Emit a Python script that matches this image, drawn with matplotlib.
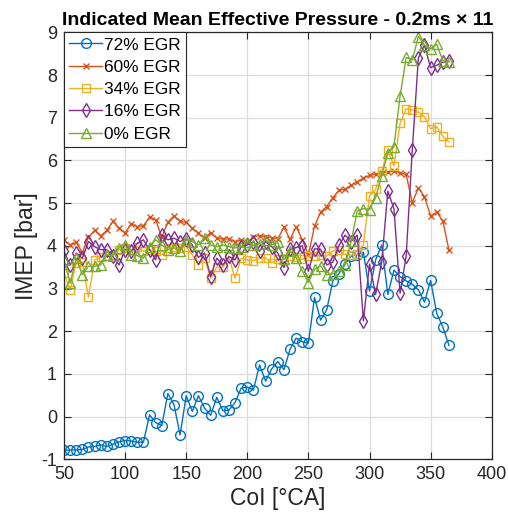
import numpy as np
import matplotlib
matplotlib.use('Agg')
import matplotlib.pyplot as plt

plt.rcParams['font.family'] = ['Liberation Sans', 'DejaVu Sans']
plt.rcParams['axes.unicode_minus'] = False

# crank angle of ignition, 5 deg steps
CoI = np.arange(50, 366, 5)

egr_labels = ['72% EGR', '60% EGR', '34% EGR', '16% EGR', '0% EGR']

imep_72 = [-0.79, -0.78, -0.78, -0.77, -0.71, -0.70, -0.66, -0.70, -0.65, -0.59,
           -0.56, -0.57, -0.60, -0.60, 0.04, -0.14, -0.21, 0.54, 0.28, -0.43,
           0.49, 0.12, 0.49, 0.20, 0.03, 0.45, 0.14, 0.15, 0.33, 0.67,
           0.69, 0.62, 1.21, 0.83, 1.12, 1.29, 1.10, 1.58, 1.84, 1.75,
           1.72, 2.79, 2.26, 2.50, 3.18, 3.35, 3.57, 3.76, 3.79, 3.85,
           2.94, 3.67, 4.02, 2.86, 3.43, 3.28, 3.18, 3.10, 2.97, 2.68,
           3.19, 2.42, 2.10, 1.67]

imep_60 = [4.14, 4.02, 4.08, 3.84, 4.20, 4.36, 4.23, 4.36, 4.57, 4.41,
           4.30, 4.52, 4.45, 4.47, 4.67, 4.61, 4.20, 4.55, 4.70, 4.57,
           4.55, 4.41, 4.30, 4.18, 4.31, 4.18, 4.16, 4.16, 4.10, 4.14,
           4.08, 4.21, 4.24, 4.21, 4.19, 4.17, 4.43, 4.15, 4.45, 4.14,
           3.78, 4.46, 4.79, 4.92, 5.13, 5.30, 5.32, 5.42, 5.50, 5.58,
           5.65, 5.68, 5.70, 5.73, 5.75, 5.71, 5.67, 5.01, 5.36, 5.15,
           4.70, 4.79, 4.58, 3.90]

imep_34 = [3.36, 2.97, 3.60, 3.62, 2.80, 3.67, 3.73, 3.77, 3.79, 3.91,
           3.95, 3.91, 3.98, 3.87, 3.91, 3.87, 3.79, 3.95, 3.98, 3.95,
           3.98, 3.79, 3.55, 3.71, 3.24, 3.50, 3.50, 3.73, 3.24, 3.71,
           3.67, 3.65, 3.72, 3.72, 3.60, 3.68, 3.68, 3.76, 3.74, 3.68,
           3.76, 3.76, 3.78, 3.76, 3.88, 3.90, 3.80, 3.78, 3.80, 4.03,
           5.17, 5.32, 5.75, 6.24, 5.87, 6.87, 7.21, 7.18, 7.13, 7.02,
           6.74, 6.79, 6.56, 6.43]

imep_16 = [3.87, 3.55, 3.83, 3.71, 4.10, 3.98, 3.91, 3.91, 3.75, 3.55,
           3.91, 3.87, 4.06, 4.14, 3.91, 3.67, 4.26, 4.14, 4.18, 4.10,
           4.16, 4.02, 3.73, 3.83, 3.28, 3.71, 3.55, 3.75, 3.67, 3.98,
           4.02, 4.10, 3.87, 4.10, 3.98, 3.83, 3.49, 3.92, 3.96, 4.00,
           3.40, 3.93, 3.92, 3.55, 3.62, 4.01, 4.25, 4.10, 4.25, 2.24,
           3.57, 2.86, 3.62, 5.28, 4.87, 2.89, 3.76, 6.24, 8.40, 8.70,
           8.17, 8.23, 8.30, 8.32]

imep_0 = [3.67, 3.13, 3.71, 3.32, 3.52, 3.52, 3.55, 3.79, 3.77, 3.95,
          4.02, 3.79, 3.77, 3.71, 3.98, 4.14, 4.02, 3.91, 3.95, 3.87,
          4.14, 4.10, 4.02, 4.18, 4.02, 3.98, 4.02, 3.98, 3.95, 3.98,
          4.10, 4.01, 4.05, 4.14, 4.02, 4.08, 3.68, 3.88, 3.72, 3.41,
          3.14, 3.45, 3.53, 3.32, 3.35, 3.41, 3.55, 4.11, 4.82, 4.87,
          4.85, 5.13, 5.64, 6.17, 6.32, 7.50, 8.41, 8.35, 8.90, 8.70,
          8.61, 8.72, 8.33, 8.31]

series = [imep_72, imep_60, imep_34, imep_16, imep_0]
colors = ['#0072BD', '#D95319', '#EDB120', '#7E2F8E', '#77AC30']
markers = ['o', 'x', 's', 'd', '^']
msizes = [7, 5, 6, 7, 7.5]

fig = plt.figure(figsize=(5.08, 5.25), dpi=100)
ax = fig.add_axes([64/508, 1-459.3/525, 427.7/508, 427/525])

for y, lab, c, m, ms in zip(series, egr_labels, colors, markers, msizes):
    ax.plot(CoI, y, color=c, marker=m, markersize=ms, markerfacecolor='none',
            markeredgewidth=1.0, linewidth=1.0, label=lab)

ax.set_xlim(50, 400)
ax.set_ylim(-1, 9)
ax.set_xticks(np.arange(50, 401, 50))
ax.set_yticks(np.arange(-1, 10, 1))
ax.grid(True, color='#DCDCDC', linewidth=0.9)
ax.set_axisbelow(True)
ax.tick_params(direction='in', length=5, width=0.8, top=True, right=True,
               labelsize=13, colors='#262626', pad=5)
for sp in ax.spines.values():
    sp.set_color('#262626')
    sp.set_linewidth(0.9)

ax.set_xlabel('CoI [°CA]', fontsize=16.5, color='#262626', labelpad=3)
ax.set_ylabel('IMEP [bar]', fontsize=16.5, color='#262626', labelpad=2)
ax.set_title('Indicated Mean Effective Pressure - 0.2ms × 11', fontsize=14,
             fontweight='bold', pad=5)

leg = ax.legend(loc='upper left', fontsize=12.4, borderaxespad=0, borderpad=0.3,
                labelspacing=0.42, handlelength=1.9, handletextpad=0.1,
                fancybox=False, framealpha=1, edgecolor='#262626')
leg.get_frame().set_linewidth(0.8)

plt.savefig('out.png', dpi=100)
plt.close()
